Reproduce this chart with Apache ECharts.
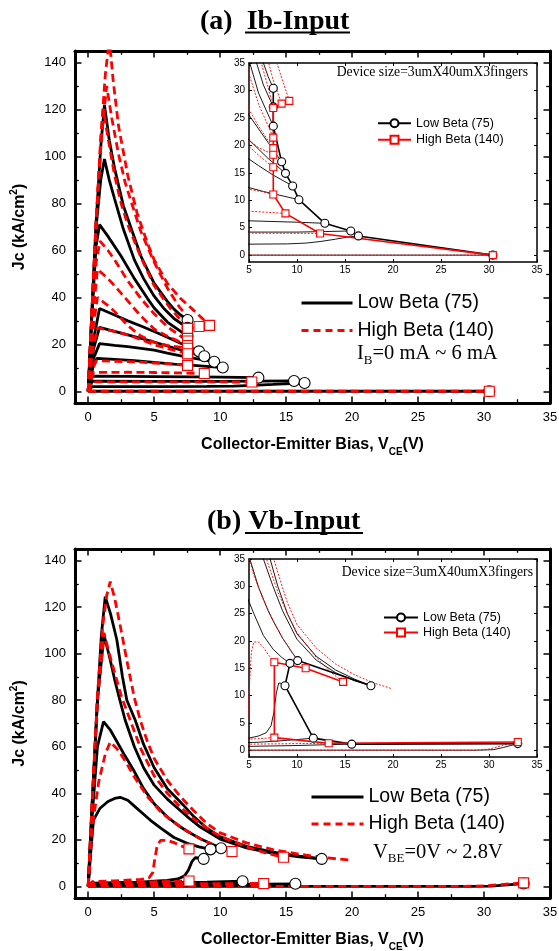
<!DOCTYPE html>
<html><head><meta charset="utf-8">
<script src="https://cdn.jsdelivr.net/npm/echarts@6/dist/echarts.min.js"></script>
<style>html,body{margin:0;padding:0;background:#fff}#c{width:559px;height:951px}</style>
</head><body><div id="c"></div>
<script>
// ---------------- tick labels ----------------
const xMainLabels = [0,5,10,15,20,25,30,35];
const xMainMinor = [2.5,7.5,12.5,17.5,22.5,27.5,32.5];
const yMainLabels = [0,20,40,60,80,100,120,140];
const yMainMinor = [10,30,50,70,90,110,130];
const xInsetLabels = [5,10,15,20,25,30,35];
const yInsetLabels = [0,5,10,15,20,25,30,35];

// ---------------- (a) Ib-Input : Low Beta (75) ----------------
const aLow1 = [[0,0],[0.3,36],[0.6,72],[0.95,104],[1.23,122],[1.6,107],[2,95],[2.67,79],[3.3,68.7],[4,57.5],[5,46],[6,38.3],[6.5,35],[7,32.5],[7.53,30.4]];
const aLow2 = [[0,0],[0.3,36],[0.6,70],[0.95,90],[1.23,99],[1.6,90],[2,82],[2.67,69],[3.5,56],[4.2,48],[5,40.5],[5.7,35.5],[6.5,31],[7.53,27]];
const aLow3 = [[0,0],[0.3,34],[0.6,62],[0.86,71],[1.5,66],[2.5,57.5],[3.5,48],[4.5,39.5],[5,35.5],[6,29.5],[7.53,23.5]];
const aLow4 = [[0,0],[0.4,22],[0.86,35.3],[2,32.5],[3,30],[4,27.8],[5,25.5],[6,23],[7,20.5],[8.4,17]];
const aLow5 = [[0,0],[0.4,18],[0.86,27.2],[2,25.5],[3,24],[4,22.5],[5,21],[6,19.3],[7,17.6],[8.8,14.9]];
const aLow6 = [[0,0],[0.4,14],[0.86,20.3],[2,19.6],[3,19],[4,18.3],[5,17.5],[6,16.3],[7.5,14.6],[9.55,12.6]];
const aLow7 = [[0,0],[0.35,10],[0.66,14],[2,13.6],[3.5,13.1],[5,12.3],[6.5,11.6],[8,11],[10.2,10.1]];
const aLow8 = [[0,0],[0.3,6.4],[3,6.35],[5,6.25],[8,6.1],[10,6],[12.9,5.8]];
const aLow9 = [[0,0],[0.3,4.3],[5,4.2],[10,4.2],[13,4.3],[15.6,4.4]];
const aLow10 = [[0,0],[0.3,2.0],[5,2.0],[9,2.05],[11,2.2],[12.5,2.5],[14,2.9],[15.3,3.3],[16.4,3.5]];
const aLow11 = [[0,0],[30.4,0]];
const aLowEnds = [[7.53,30.4],[7.53,27],[7.53,23.5],[8.4,17],[8.8,14.9],[9.55,12.6],[10.2,10.1],[12.9,5.8],[15.6,4.4],[16.4,3.5],[30.4,0]];

// ---------------- (a) Ib-Input : High Beta (140) ----------------
const aHigh1 = [[0,0],[0.3,36],[0.6,72],[0.95,108],[1.3,135],[1.6,150],[1.9,132],[2.3,113],[3,92],[3.7,76],[4.5,63],[5,56],[6,46],[7,39.5],[7.9,35],[9.2,28.1]];
const aHigh2 = [[0,0],[0.3,36],[0.6,72],[1.0,108],[1.4,130],[1.8,116],[2.3,101],[2.8,89],[3.3,80],[4,68],[5,55],[6,44],[6.9,36],[7.5,32],[8.4,27.6]];
const aHigh3 = [[0,0],[0.3,36],[0.6,72],[0.95,106],[1.15,120],[1.5,108],[2,92],[2.5,80],[3,71],[4,57],[5,45],[6.2,35.5],[7,30.5],[7.53,26.8]];
const aHigh4 = [[0,0],[0.3,30],[0.6,55],[0.9,64],[1.5,60],[2,56],[3,47],[4,39.5],[5,33],[6,27.5],[7.53,21.4]];
const aHigh5 = [[0,0],[0.35,32],[0.7,52],[1.5,48],[2,45],[3,38.5],[4,32],[5,26.5],[6,23.5],[7.53,19.5]];
const aHigh6 = [[0,0],[0.35,26],[0.7,40],[1.5,36.5],[2,34],[3,28],[4,23.5],[5,20.8],[6,19.6],[7.53,18.3]];
const aHigh7 = [[0,0],[0.35,18],[0.7,27],[2,25.5],[3,24],[4,22],[5,19.8],[6,18.2],[7.53,16]];
const aHigh8 = [[0,0],[0.3,9],[0.6,13],[2,12.8],[4,12.4],[5,12],[6.5,11.5],[7.53,11.05]];
const aHigh9 = [[0,0],[0.4,8],[3,8.1],[5,8],[7,7.8],[8.8,7.6]];
const aHigh10 = [[0,0],[0.3,4],[5,4],[9,3.97],[12.4,3.95]];
const aHigh11 = [[0,0],[30.4,0]];
const aHighEnds = [[9.2,28.1],[8.4,27.6],[7.53,26.8],[7.53,21.4],[7.53,19.5],[7.53,18.3],[7.53,16],[7.53,11.05],[8.8,7.6],[12.4,3.95],[30.4,0]];

// ---------------- (b) Vb-Input : Low Beta (75) ----------------
const bLow1 = [[0,0],[0.3,35],[0.7,80],[1.0,108],[1.29,124.5],[1.7,117],[2.17,106],[2.6,90],[2.93,80],[3.56,71.5],[4.2,61],[5,51],[6,42],[7.2,35],[8,30],[9,25],[10,21.3],[12,17.2],[14,14.7],[16,13],[17.7,11.8]];
const bLow2 = [[0,0],[0.3,36],[0.7,80],[1.2,108],[1.6,99],[2,89],[2.4,80],[2.8,71.5],[3.5,60],[4.2,51],[5,43.5],[6,37.5],[6.5,35],[7.5,30],[8.5,25.5],[10,20.3],[12,16.5],[14,14.2],[16,12.7],[17.7,11.8]];
const bLow3 = [[0,0],[0.3,30],[0.7,60],[1.16,70.8],[1.7,67],[2.3,61],[2.8,56],[3.43,50],[4.2,42],[5,35.5],[6,29.8],[7,25.5],[7.5,23.7],[8.5,20.5],[10.07,16.4]];
const bLow4 = [[0,0],[0.2,15],[0.4,28.5],[0.9,33.6],[1.5,36.5],[2,37.8],[2.42,38.3],[3,37],[3.5,34.5],[4.2,31],[4.7,28.5],[5.5,25],[6.5,21],[7.5,18.5],[8.4,17],[9.27,15.9]];
const bLow5 = [[0,0],[0.3,1.4],[2,1.6],[4,1.8],[5,2.2],[6,2.6],[6.8,3.2],[7.3,4.5],[7.6,7],[7.85,10.5],[8.1,12.3],[8.4,12.2],[8.75,11.8]];
const bLow6 = [[0,0],[0.3,1.2],[3,1.3],[6,1.45],[9,1.8],[11.7,2.2]];
const bLow7 = [[0,0],[0.3,0.6],[5,0.7],[10,0.85],[13,1.0],[15.7,1.1]];
const bLow8 = [[0,0],[29,0],[30.5,0.1],[31.5,0.5],[33,1.2]];
const bLowEnds = [[17.7,11.8],[10.07,16.4],[9.27,15.9],[8.75,11.8],[11.7,2.2],[15.7,1.1],[33,1.2]];

// ---------------- (b) Vb-Input : High Beta (140) ----------------
const bHigh1 = [[0,0],[0.3,36],[0.7,82],[1.1,112],[1.4,125],[1.67,131],[2,124],[2.5,110],[3,95],[3.5,81],[3.94,71.5],[4.5,62],[5,55],[6,45.5],[7,38.5],[8,32.5],[9,27],[10,23],[12,18.7],[14,15.8],[16,13.8],[18,12.3],[19.8,11.3]];
const bHigh2 = [[0,0],[0.3,36],[0.7,80],[1.2,109],[1.6,100],[2,92],[2.5,82],[3.18,71.5],[4,59],[5,47.5],[6,40],[7,34],[8,29],[9,25],[10,21.5],[12,17],[13.5,14.3],[14.8,12.5]];
const bHigh3 = [[0,0],[0.3,25],[0.8,45],[1.3,57],[1.67,62],[2.2,59],[2.8,54],[3.5,47],[4.5,38.5],[5.5,32],[6.5,27.5],[7.5,23.8],[8.5,20.5],[9.5,17.8],[10.9,15]];
const bHigh4 = [[0,0],[0.3,2],[2,2.4],[4,3],[4.6,3.6],[4.9,6],[5.05,12],[5.25,18],[5.5,19.8],[6,19.8],[6.5,18.8],[7,17.5],[7.64,16.1]];
const bHigh5 = [[0,0],[0.3,1.6],[3,1.8],[5,2],[7.64,2.3]];
const bHigh6 = [[0,0],[0.3,1.0],[5,1.1],[10,1.2],[13.3,1.26]];
const bHigh7 = [[0,0],[28.5,0],[30,0.2],[31.5,0.9],[33,1.5]];
const bHighEnds = [[14.8,12.5],[10.9,15],[7.64,16.1],[7.64,2.3],[13.3,1.26],[33,1.5]];

// ---------------- build ----------------
const F_SANS = "'Liberation Sans', Arial, Helvetica, sans-serif";
const F_SERIF = "'Liberation Serif', 'Times New Roman', Times, serif";
const clone = o => JSON.parse(JSON.stringify(o));

function axesPair(kind, grid, min, max, labels, ticks, o) {
  const base = {type:'value', gridIndex:grid, min:min, max:max, splitLine:{show:false},
    axisLine:{show:!o.noLine, onZero:false, lineStyle:{color:'#000', width:o.lw}},
    axisTick:{show:true, inside:true, length:o.tl, customValues:ticks, lineStyle:{color:'#000', width:o.tw}}};
  const main = clone(base);
  main.position = kind === 'x' ? 'bottom' : 'left';
  main.axisLabel = o.noLabel ? {show:false} : {show:true, customValues:labels, fontSize:o.fs, color:'#000', fontFamily:F_SANS, margin:o.lm};
  if (o.name) { main.name = o.name; main.nameLocation = 'middle'; main.nameGap = o.ng; main.nameTextStyle = o.nts; if (kind==='y') main.nameRotate = 90; }
  const mirror = clone(base);
  mirror.position = kind === 'x' ? 'top' : 'right';
  mirror.axisLabel = {show:false};
  return [main, mirror];
}

const xNameRich = {rich:{
  a:{fontSize:16, fontWeight:'bold', fontFamily:F_SANS, color:'#000', lineHeight:24},
  s:{fontSize:10, fontWeight:'bold', fontFamily:F_SANS, color:'#000', lineHeight:8, verticalAlign:'bottom'}}};
const yNameRich = {rich:{
  a:{fontSize:16, fontWeight:'bold', fontFamily:F_SANS, color:'#000', lineHeight:22},
  p:{fontSize:10, fontWeight:'bold', fontFamily:F_SANS, color:'#000', lineHeight:10, verticalAlign:'top'}}};
const mainOpt = {lw:3, tl:6.5, tw:1.5, fs:13, lm:8};
const minorOpt = {lw:0, tl:3.8, tw:1.3, noLine:true, noLabel:true};
const insetOpt = {lw:1.5, tl:3, tw:1, fs:10, lm:3};
const XNAME = '{a|Collector-Emitter Bias, V}{s|CE}{a|(V)}';
const YNAME = '{a|Jc (kA/cm}{p|2}{a|)}';

// grid 0: main (a), 1: inset (a), 2: main (b), 3: inset (b), 4/5: minor-tick copies of 0/2
const xAxes = [].concat(
  axesPair('x',0,-1,35,xMainLabels,xMainLabels,Object.assign({},mainOpt,{name:XNAME, ng:30, nts:xNameRich})),
  axesPair('x',1,5,35,xInsetLabels,xInsetLabels,insetOpt),
  axesPair('x',2,-1,35,xMainLabels,xMainLabels,Object.assign({},mainOpt,{name:XNAME, ng:30, nts:xNameRich})),
  axesPair('x',3,5,35,xInsetLabels,xInsetLabels,insetOpt),
  axesPair('x',4,-1,35,[],xMainMinor,minorOpt),
  axesPair('x',5,-1,35,[],xMainMinor,minorOpt)
);
const yAxes = [].concat(
  axesPair('y',0,-5,145,yMainLabels,yMainLabels,Object.assign({},mainOpt,{lm:9,name:YNAME, ng:44, nts:yNameRich})),
  axesPair('y',1,-1.25,35,yInsetLabels,yInsetLabels,Object.assign({},insetOpt,{lm:4})),
  axesPair('y',2,-5,145,yMainLabels,yMainLabels,Object.assign({},mainOpt,{lm:9,name:YNAME, ng:44, nts:yNameRich})),
  axesPair('y',3,-1.25,35,yInsetLabels,yInsetLabels,Object.assign({},insetOpt,{lm:4})),
  axesPair('y',4,-5,145,[],yMainMinor,minorOpt),
  axesPair('y',5,-5,145,[],yMainMinor,minorOpt)
);

const series = [];
function curve(data, g, color, width, type, name) {
  const s = {type:'line', xAxisIndex:g*2, yAxisIndex:g*2, data:data, symbol:'none', clip:true,
    lineStyle:{color:color, width:width, type:type}, itemStyle:{color:color}, animation:false, silent:true, z:2};
  if (name) s.name = name;
  series.push(s);
}
function ends(data, g, shape, size, stroke, line, name, lw) {
  series.push({type:'line', name:name, xAxisIndex:g*2, yAxisIndex:g*2, data:data, symbol:shape, symbolSize:size,
    showSymbol:true, clip:true, animation:false, silent:true, z:4,
    lineStyle: line ? {color:stroke, width:lw} : {opacity:0, width:0},
    itemStyle:{color:'#fff', borderColor:stroke, borderWidth:1.1, opacity:1}});
}
const RED = '#ff0000';
const aLows = [aLow1,aLow2,aLow3,aLow4,aLow5,aLow6,aLow7,aLow8,aLow9,aLow10,aLow11];
const aHighs = [aHigh1,aHigh2,aHigh3,aHigh4,aHigh5,aHigh6,aHigh7,aHigh8,aHigh9,aHigh10,aHigh11];
const bLows = [bLow1,bLow2,bLow3,bLow4,bLow5,bLow6,bLow7,bLow8];
const bHighs = [bHigh1,bHigh2,bHigh3,bHigh4,bHigh5,bHigh6,bHigh7];

// main (a)
aLows.forEach((d,i)=>curve(d,0,'#000',2.8,'solid', i===0?'lowMainA':null));
aHighs.forEach((d,i)=>curve(d,0,RED,2.8,[8,4.5], i===0?'highMainA':null));
ends(aLowEnds,0,'circle',11,'#000',false,'cA');
ends(aHighEnds,0,'rect',10,RED,false,'sA');
// inset (a)
aLows.forEach(d=>curve(d,1,'#000',0.9,'solid'));
aHighs.forEach(d=>curve(d,1,RED,0.9,[2,1.5]));
ends(aLowEnds,1,'circle',8,'#000',true,'lowInsetA',1.6);
ends(aHighEnds,1,'rect',7,RED,true,'highInsetA',1.6);
// main (b)
bLows.forEach((d,i)=>curve(d,2,'#000',2.8,'solid', i===0?'lowMainB':null));
bHighs.forEach((d,i)=>curve(d,2,RED,2.8,[8,4.5], i===0?'highMainB':null));
ends(bLowEnds,2,'circle',11,'#000',false,'cB');
ends(bHighEnds,2,'rect',10,RED,false,'sB');
// inset (b)
bLows.forEach(d=>curve(d,3,'#000',0.9,'solid'));
bHighs.forEach(d=>curve(d,3,RED,0.9,[2,1.5]));
ends(bLowEnds,3,'circle',8,'#000',true,'lowInsetB',1.6);
ends(bHighEnds,3,'rect',7,RED,true,'highInsetB',1.6);

const LEG = {lowMainA:'Low Beta (75)', highMainA:'High Beta (140)', lowMainB:'Low Beta (75)', highMainB:'High Beta (140)',
  lowInsetA:'Low Beta (75)', highInsetA:'High Beta (140)', lowInsetB:'Low Beta (75)', highInsetB:'High Beta (140)'};
function mainLeg(name, left, top, w, color, type) {
  return {data:[name], left:left, top:top, orient:'horizontal', padding:0, itemGap:0, itemWidth:w, itemHeight:14,
    selectedMode:false, formatter:n=>LEG[n], textStyle:{fontSize:19.5, fontFamily:F_SANS, color:'#000'},
    itemStyle:{color:'rgba(0,0,0,0)', borderColor:'rgba(0,0,0,0)', borderWidth:0},
    lineStyle:{color:color, width:3, type:type}};
}
function insetLeg(name, left, top, w) {
  return {data:[name], left:left, top:top, orient:'horizontal', padding:0, itemGap:0, itemWidth:w, itemHeight:10,
    selectedMode:false, formatter:n=>LEG[n], textStyle:{fontSize:12.5, fontFamily:F_SANS, color:'#000'}};
}
const legends = [
  mainLeg('lowMainA',300,293,51,'#000','solid'),
  mainLeg('highMainA',300,320.5,51,RED,[7,5]),
  mainLeg('lowMainB',310,787,52,'#000','solid'),
  mainLeg('highMainB',310,814,52,RED,[7,5]),
  insetLeg('lowInsetA',377,116.7,33),
  insetLeg('highInsetA',377,133.3,33),
  insetLeg('lowInsetB',383,611,34),
  insetLeg('highInsetB',383,626,34)
];

const serifRich = {fontWeight:'normal', rich:{
  m:{fontSize:20.5, fontFamily:F_SERIF, fontWeight:'normal', color:'#000', lineHeight:26},
  s:{fontSize:13, fontFamily:F_SERIF, fontWeight:'normal', color:'#000', lineHeight:10, verticalAlign:'bottom'}}};
const titles = [
  {text:'(a)  Ib-Input', left:200, top:7.7, padding:0, textStyle:{fontFamily:F_SERIF, fontWeight:'bold', fontSize:28, color:'#000'}},
  {text:'(b) Vb-Input', left:207, top:508, padding:0, textStyle:{fontFamily:F_SERIF, fontWeight:'bold', fontSize:28, color:'#000'}},
  {text:'Device size=3umX40umX3fingers', right:31, top:65.5, padding:0, textStyle:{fontFamily:F_SERIF, fontWeight:'normal', fontSize:13.7, color:'#000'}},
  {text:'Device size=3umX40umX3fingers', right:26, top:565.5, padding:0, textStyle:{fontFamily:F_SERIF, fontWeight:'normal', fontSize:13.7, color:'#000'}},
  {text:'{m|I}{s|B}{m|=0 mA ~ 6 mA}', left:357, top:341, padding:0, textStyle:serifRich},
  {text:'{m|V}{s|BE}{m|=0V ~ 2.8V}', left:373, top:839.5, padding:0, textStyle:serifRich}
];

const G = (l,t,w,h)=>({left:l, top:t, width:w, height:h, outerBoundsMode:'none', containLabel:false});
const option = {
  backgroundColor:'#fff',
  animation:false,
  title: titles,
  legend: legends,
  grid: [G(75,51,475,352), G(249,63,288,199), G(75,549,475,349), G(249,559,288,198), G(75,51,475,352), G(75,549,475,349)],
  xAxis: xAxes,
  yAxis: yAxes,
  series: series,
  graphic: [
    {type:'line', shape:{x1:245, y1:32.5, x2:350, y2:32.5}, style:{stroke:'#000', lineWidth:2}, silent:true},
    {type:'line', shape:{x1:245, y1:533, x2:363, y2:533}, style:{stroke:'#000', lineWidth:2}, silent:true}
  ]
};
const chart = echarts.init(document.getElementById('c'), null, {renderer:'canvas', width:559, height:951});
chart.setOption(option);
</script></body></html>
